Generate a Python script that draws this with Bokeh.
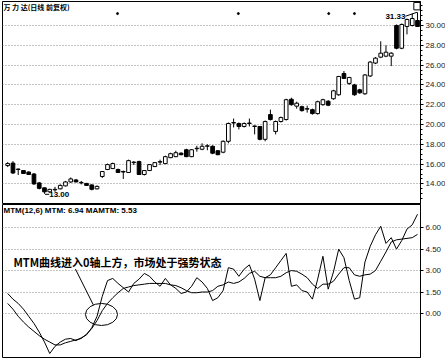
from bokeh.plotting import figure
from bokeh.layouts import column
from bokeh.models import FixedTicker, PrintfTickFormatter, Range1d, Label
from bokeh.embed import file_html
from bokeh.resources import INLINE
from bokeh.core.properties import value
import numpy as np

# ---------------- data ----------------
opens = [15.85, 16.1, 15.45, 15.35, 15.2, 15.0, 14.1, 13.6, 13.2, 13.4, 13.5, 13.8, 14.2, 14.4, 14.1, 14.05, 13.9, 13.5,
         14.75, 15.45, 15.55, 15.45, 15.25, 15.15, 16.15, 16.25, 14.95, 15.35, 15.75, 16.2, 16.05, 16.65, 16.75, 17.1, 17.45, 16.75, 17.55,
         17.5, 17.8, 17.8, 17.35, 17.2, 18.3, 20.15, 20.1, 19.8, 20.1, 19.8, 19.8, 18.5, 21.0, 19.3, 20.3, 20.5, 22.55, 21.85, 21.8,
         21.55, 21.5, 21.1, 22.0, 22.35, 22.6, 23.0, 25.15, 24.15, 24.0, 23.5, 23.1, 24.9, 26.2, 26.8, 26.9, 26.9, 30.0, 27.7, 29.9, 30.0, 30.5]
highs = [16.2, 16.3, 15.55, 15.4, 15.25, 15.1, 14.2, 13.65, 13.5, 13.7, 13.95, 14.3, 14.65, 14.5, 14.3, 14.1, 13.95, 13.85,
         15.3, 16.05, 16.15, 15.55, 15.35, 16.45, 16.3, 16.35, 15.4, 16.0, 16.2, 16.45, 16.85, 17.15, 17.35, 17.2, 17.55, 17.5, 17.85,
         18.1, 18.0, 17.9, 17.4, 18.4, 20.2, 20.6, 20.2, 20.2, 20.6, 19.9, 19.85, 20.4, 21.5, 20.4, 20.8, 22.6, 22.7, 22.3, 21.9,
         21.9, 21.6, 22.4, 22.6, 22.45, 23.5, 24.9, 25.4, 24.8, 24.1, 23.6, 25.1, 26.4, 26.8, 28.4, 28.0, 27.3, 30.1, 30.2, 30.7, 31.2, 31.33]
lows = [15.7, 15.0, 14.9, 15.0, 14.9, 13.9, 13.45, 13.0, 13.1, 13.2, 13.45, 13.75, 14.1, 14.15, 13.95, 13.8, 13.35, 13.45,
        14.6, 15.4, 15.5, 15.1, 14.5, 15.1, 15.9, 14.9, 14.85, 15.3, 15.7, 15.9, 16.0, 16.6, 16.7, 16.9, 16.7, 16.7, 17.25,
        17.4, 17.4, 17.0, 16.9, 17.1, 18.1, 19.7, 19.5, 19.7, 19.8, 19.0, 18.4, 18.3, 20.4, 19.0, 20.2, 20.4, 21.9, 21.6, 21.3,
        21.2, 21.0, 21.0, 21.9, 21.85, 22.5, 22.9, 24.6, 24.0, 22.9, 23.1, 23.0, 24.8, 26.1, 26.7, 26.8, 25.9, 27.6, 27.6, 29.1, 29.9, 29.85]
closes = [16.05, 15.1, 15.5, 15.05, 14.95, 14.0, 13.55, 13.2, 13.45, 13.45, 13.85, 14.2, 14.5, 14.2, 14.15, 13.85, 13.45, 13.75,
          15.25, 15.95, 16.05, 15.15, 15.2, 16.35, 16.2, 14.95, 15.35, 15.95, 16.15, 16.25, 16.75, 17.05, 17.15, 16.95, 16.75, 17.45, 17.6,
          17.8, 17.85, 17.1, 16.95, 18.3, 20.1, 20.2, 19.8, 20.1, 20.15, 19.85, 18.5, 20.3, 20.5, 20.3, 20.7, 22.5, 22.0, 22.15, 21.4,
          21.6, 21.1, 22.3, 22.5, 21.95, 23.4, 24.85, 24.65, 24.75, 23.0, 23.2, 25.0, 26.3, 26.7, 27.2, 27.3, 27.2, 27.7, 30.1, 30.6, 30.7, 29.9]

mtm = [1.4, 1.0, 0.7, 0.3, -0.2, -0.7, -1.3, -2.0, -2.8, -2.3, -2.0, -1.8, -1.75, -1.9, -1.7, -1.5, -1.0, -0.2, 1.2, 2.3,
       2.45, 2.1, 1.8, 1.5, 2.1, 2.4, 2.8, 2.6, 2.2, 1.9, 2.45, 2.0, 1.75, 1.4, 1.5, 1.9, 2.5, 2.2, 1.75, 0.9,
       1.1, 1.6, 3.2, 3.1, 2.6, 3.1, 3.4, 2.4, 0.9, 2.5, 2.7, 3.2, 3.7, 4.2, 1.9, 2.0, 1.6, 1.5, 1.0, 2.4,
       4.0, 1.7, 2.9, 4.5, 3.9, 2.3, 1.0, 1.1, 3.6, 4.7, 5.5, 6.1, 4.9, 5.3, 4.5, 5.1, 5.9, 6.2, 6.94]
mamtm = [0.7, 0.3, -0.2, -0.6, -0.95, -1.25, -1.55, -1.8, -2.0, -2.2, -2.2, -2.05, -1.95, -1.85, -1.75, -1.45, -1.05, -0.5, 0.2, 0.7,
         1.1, 1.45, 1.75, 1.85, 1.95, 2.0, 2.05, 2.1, 2.1, 2.1, 2.1, 2.0, 1.95, 1.8, 1.6, 1.45, 1.45, 1.5, 1.5, 1.6,
         1.9, 2.0, 2.2, 2.1, 2.2, 2.45, 2.8, 2.95, 2.6, 2.5, 2.5, 2.5, 2.6, 2.85, 3.0, 2.95, 2.75, 2.5, 2.05, 1.75,
         2.05, 2.05, 2.25, 2.75, 3.2, 3.2, 2.7, 2.6, 2.7, 2.75, 3.0, 3.65, 4.3, 5.0, 5.15, 5.2, 5.25, 5.3, 5.53]

price_ticks = [14, 16, 18, 20, 22, 24, 26, 28, 30]
mtm_ticks = [0, 1.5, 3, 4.5, 6]
marker_idx = [20.9, 43.9, 61.1, 66.0]
title_text = "万 力 达(日线 前复权)"
note_text = "MTM曲线进入0轴上方，市场处于强势状态"

n = len(closes)
idx = list(range(n))
up = [c >= o for o, c in zip(opens, closes)]
tops = [max(o, c) for o, c in zip(opens, closes)]
bots = [min(o, c) for o, c in zip(opens, closes)]
fills = ["white" if u else "black" for u in up]

XR = (-0.99, 78.57)
FONT = "Liberation Sans"

def style_axis(ax, ticks, minor):
    ax.ticker = FixedTicker(ticks=ticks, minor_ticks=minor)
    ax.formatter = PrintfTickFormatter(format="%.2f")
    ax.major_label_text_font = FONT
    ax.major_label_text_font_size = "8px"
    ax.major_label_text_color = "#222222"
    ax.major_tick_out = 3
    ax.major_tick_in = 0
    ax.minor_tick_out = 2
    ax.minor_tick_in = 0
    ax.major_label_standoff = 2
    ax.axis_line_color = "black"
    ax.major_tick_line_color = "black"
    ax.minor_tick_line_color = "black"

# ---------------- top panel ----------------
p1 = figure(frame_width=418, frame_height=203, x_range=Range1d(*XR), y_range=Range1d(11.92, 32.42),
            output_backend="svg", toolbar_location=None, x_axis_location=None, y_axis_location="right",
            min_border_left=2, min_border_right=0, min_border_top=1, min_border_bottom=0)
style_axis(p1.yaxis[0], price_ticks, list(np.arange(12.5, 32.1, 0.5)))
p1.xgrid.visible = False
p1.ygrid.grid_line_color = "#8a8a8a"
p1.ygrid.grid_line_dash = "1 2"
p1.outline_line_color = "black"
p1.background_fill_color = "white"
p1.border_fill_color = "white"

p1.segment(x0=idx, y0=lows, x1=idx, y1=highs, line_color="black", line_width=1)
p1.vbar(x=idx, width=0.7, top=tops, bottom=bots, fill_color=fills, line_color="black", line_width=1)

p1.scatter(x=marker_idx, y=[31.2] * len(marker_idx), size=2, marker="circle", color="black")

p1.add_layout(Label(x=-0.8, y=32.35, text=title_text, text_font="Noto Sans CJK SC", text_font_size="7px",
                    text_font_style="bold", text_baseline="top", text_color="black"))

lo_i = int(np.argmin(lows))
p1.segment(x0=[lo_i + 0.1], y0=[lows[lo_i] - 0.05], x1=[lo_i + 0.9], y1=[lows[lo_i] - 0.05], line_color="black")
p1.add_layout(Label(x=lo_i + 0.9, y=lows[lo_i] - 0.05, text=f"{lows[lo_i]:.2f}", text_font=FONT, text_font_size="8px",
                    text_font_style="bold", text_baseline="middle", text_color="black"))

hi_i = int(np.argmax(highs))
p1.segment(x0=[hi_i - 2.3], y0=[highs[hi_i] - 0.4], x1=[hi_i - 0.1], y1=[highs[hi_i]], line_color="black")
p1.add_layout(Label(x=hi_i - 2.3, y=highs[hi_i] - 0.4, text=f"{highs[hi_i]:.2f}", text_font=FONT, text_font_size="8px",
                    text_font_style="bold", text_baseline="middle", text_align="right", text_color="black"))

p1.rect(x=[77.9], y=[31.95], width=1.2, height=0.75, fill_color="white", line_color="black", line_width=1)

# ---------------- bottom panel ----------------
p2 = figure(frame_width=418, frame_height=153, x_range=Range1d(*XR), y_range=Range1d(-3.08, 7.62),
            output_backend="svg", toolbar_location=None, x_axis_location=None, y_axis_location="right",
            min_border_left=2, min_border_right=0, min_border_top=0, min_border_bottom=2)
style_axis(p2.yaxis[0], mtm_ticks, [])
p2.xgrid.visible = False
p2.ygrid.grid_line_color = "#8a8a8a"
p2.ygrid.grid_line_dash = "1 2"
p2.outline_line_color = "black"

p2.line(idx, mtm, line_color="black", line_width=1)
p2.line(idx, mamtm, line_color="black", line_width=1)

p2.add_layout(Label(x=-0.8, y=7.55, text=f"MTM(12,6) MTM: {mtm[-1]:.2f} MAMTM: {mamtm[-1]:.2f}",
                    text_font=FONT, text_font_size="8px", text_font_style="bold", text_baseline="top", text_color="black"))

p2.add_layout(Label(x=1.1, y=3.57, text=note_text, text_font="Noto Sans CJK SC", text_font_size="11px",
                    text_font_style="bold", text_baseline="middle", text_color="black"))
p2.segment(x0=[12.9], y0=[3.1], x1=[16.3], y1=[0.6], line_color="black", line_width=1)
p2.ellipse(x=[17.85], y=[-0.07], width=6.1, height=1.54, fill_color=None, line_color="black", line_width=1)

layout = column(p1, p2, spacing=0)
open("out.html", "w").write(file_html(layout, INLINE))
